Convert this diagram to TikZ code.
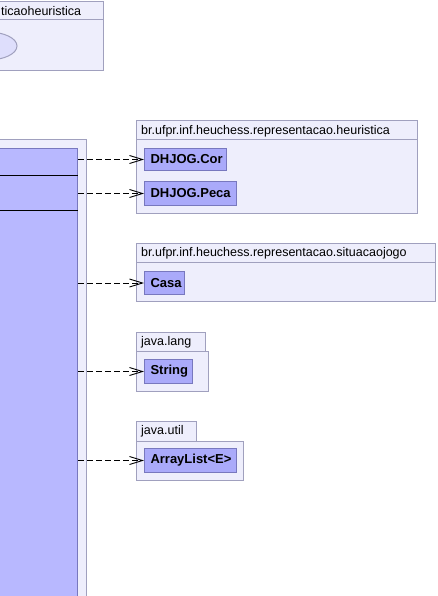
\documentclass[tikz,border=0pt]{standalone}
\usepackage{fontspec}
\setmainfont{Liberation Sans}
\usetikzlibrary{arrows.meta,positioning}

\definecolor{pkgfill}{RGB}{238,238,252}
\definecolor{pkgline}{RGB}{160,160,190}
\definecolor{clsfill}{RGB}{170,170,250}
\definecolor{bigfill}{RGB}{184,184,255}
\definecolor{clsline}{RGB}{120,120,190}
\definecolor{ucfill}{RGB}{222,222,252}

\tikzset{
  pkg/.style={draw=pkgline, fill=pkgfill, line width=1pt},
  cls/.style={draw=clsline, fill=clsfill, line width=1pt, anchor=north west,
    inner xsep=6pt, inner ysep=0pt, minimum height=23pt, align=left,
    font=\fontsize{13}{15}\selectfont\bfseries},
  pkgname/.style={anchor=west, inner sep=0pt, font=\fontsize{12.5}{14}\selectfont},
  dep/.style={dash pattern=on 6pt off 3pt, line width=0.9pt,
    -{Straight Barb[length=13pt,width=8pt]}}
}

\begin{document}
\begin{tikzpicture}[x=1pt,y=-1pt]
\useasboundingbox (0,0) rectangle (438,596);
\begin{scope}
\clip (0,0) rectangle (438,596);

% top package
\draw[pkg] (-20,2) rectangle (103,71);
\draw[pkgline, line width=1pt] (-20,20) -- (103,20);
\node[pkgname] (topname) at (1,11) {ticaoheuristica};
\draw[draw=pkgline, fill=ucfill, line width=1pt] (-12,46) ellipse (29 and 14);

% big class
\draw[pkg] (-20,140) rectangle (86,610);
\node[draw=clsline, fill=bigfill, line width=1pt, anchor=north east,
  minimum width=100pt, minimum height=470pt, inner sep=0pt] (comp) at (78,148) {};
\draw[line width=1pt] ([yshift=-27pt]comp.north west) -- ([yshift=-27pt]comp.north east);
\draw[line width=1pt] ([yshift=-62pt]comp.north west) -- ([yshift=-62pt]comp.north east);

% heuristica
\draw[pkg] (136,121) rectangle (417,213);
\draw[pkgline, line width=1pt] (136,140) -- (417,140);
\node[pkgname] (heurname) at (141,131) {br.ufpr.inf.heuchess.representacao.heuristica};
\node[cls, text width=70pt, minimum height=22pt] (cor) at (144,148) {DHJOG.Cor};
\node[cls, text width=80pt, minimum height=24pt] (peca) at (144,181) {DHJOG.Peca};

% situacaojogo
\draw[pkg] (136,243) rectangle (435,301);
\draw[pkgline, line width=1pt] (136,262) -- (435,262);
\node[pkgname] (sitname) at (141,253) {br.ufpr.inf.heuchess.representacao.situacaojogo};
\node[cls, text width=28pt] (casa) at (144,271) {Casa};

% java.lang
\draw[pkg] (136,332) rectangle (205,351);
\draw[pkg] (136,351) rectangle (208,391);
\node[pkgname] (langname) at (141,342) {java.lang};
\node[cls, text width=36pt, minimum height=24pt] (string) at (144,359) {String};

% java.util
\draw[pkg] (136,421) rectangle (196,441);
\draw[pkg] (136,441) rectangle (243,480);
\node[pkgname] (utilname) at (141,431) {java.util};
\node[cls, text width=80pt, minimum height=24pt] (list) at (144,448) {ArrayList<E>};

\draw[dep] (comp.east |- cor.west) -- (cor.west);
\draw[dep] (comp.east |- peca.west) -- (peca.west);
\draw[dep] (comp.east |- casa.west) -- (casa.west);
\draw[dep] (comp.east |- string.west) -- (string.west);
\draw[dep] (comp.east |- list.west) -- (list.west);
\end{scope}
\end{tikzpicture}
\end{document}
